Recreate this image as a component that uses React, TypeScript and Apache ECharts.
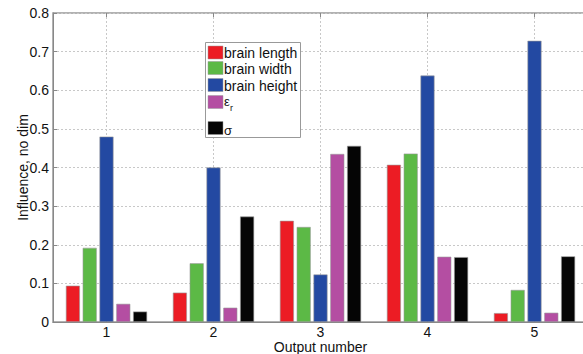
import React, { useEffect, useRef } from "react";
import * as echarts from "echarts";

const categories = ["1", "2", "3", "4", "5"];
const seriesNames = ["brain length", "brain width", "brain height", "εr", "σ"];
const brainLength = [0.094, 0.076, 0.262, 0.407, 0.023];
const brainWidth = [0.192, 0.152, 0.246, 0.436, 0.083];
const brainHeight = [0.48, 0.4, 0.123, 0.638, 0.728];
const epsR = [0.047, 0.037, 0.435, 0.169, 0.024];
const sigma = [0.027, 0.273, 0.456, 0.168, 0.17];
const colors = ["#ec1c24", "#5cb946", "#2349a2", "#b44ea2", "#050505"];
const yTicks = [0, 0.1, 0.2, 0.3, 0.4, 0.5, 0.6, 0.7, 0.8];

const FONT = "Liberation Sans, Arial, sans-serif";

export default function App() {
  const ref = useRef<HTMLDivElement>(null);
  useEffect(() => {
    if (!ref.current) return;
    const chart = echarts.init(ref.current, null, { renderer: "svg" });
    const allData = [brainLength, brainWidth, brainHeight, epsR, sigma];
    const legendTop = [46, 61.5, 78.5, 95.5, 121.5];
    const legendItems: any[] = [];
    seriesNames.forEach((name, i) => {
      legendItems.push({
        type: "rect",
        shape: { x: 208, y: legendTop[i], width: 15, height: 13 },
        style: { fill: colors[i], stroke: "#999", lineWidth: 0.5 },
      });
    });
    legendItems.push(
      { type: "text", style: { x: 224, y: 53, text: seriesNames[0], font: `14px ${FONT}`, fill: "#111", verticalAlign: "middle" } },
      { type: "text", style: { x: 224, y: 68.5, text: seriesNames[1], font: `14px ${FONT}`, fill: "#111", verticalAlign: "middle" } },
      { type: "text", style: { x: 224, y: 85.5, text: seriesNames[2], font: `14px ${FONT}`, fill: "#111", verticalAlign: "middle" } },
      { type: "text", style: { x: 224, y: 101, text: "ε", font: `13px ${FONT}`, fill: "#111", verticalAlign: "middle" } },
      { type: "text", style: { x: 230, y: 108, text: "r", font: `9px ${FONT}`, fill: "#111", verticalAlign: "middle" } },
      { type: "text", style: { x: 224, y: 130, text: "σ", font: `13px ${FONT}`, fill: "#111", verticalAlign: "middle" } }
    );
    chart.setOption({
      animation: false,
      backgroundColor: "#fff",
      grid: {
        left: 53,
        top: 13,
        right: -5,
        bottom: 32,
        show: true,
        borderColor: "#999",
        borderWidth: 1.5,
        containLabel: false,
        outerBoundsMode: "none",
      },
      xAxis: [
        {
          type: "category",
          data: categories,
          axisLine: { lineStyle: { color: "#888", width: 1 } },
          axisTick: { show: true, inside: true, alignWithLabel: true, length: 4, lineStyle: { color: "#888" } },
          axisLabel: { color: "#111", fontSize: 14, fontFamily: FONT, margin: 3 },
          splitLine: { show: false },
          name: "Output number",
          nameLocation: "middle",
          nameGap: 18,
          nameMoveOverlap: false,
          nameTextStyle: { color: "#111", fontSize: 14, fontFamily: FONT },
        },
        {
          type: "category",
          data: categories,
          position: "top",
          axisLine: { show: false },
          axisTick: { show: true, inside: true, alignWithLabel: true, length: 4, lineStyle: { color: "#888" } },
          axisLabel: { show: false },
          splitLine: { show: true, alignWithLabel: true, lineStyle: { color: "#c8c8c8", type: [2, 2], width: 1 } },
        },
      ],
      yAxis: {
        type: "value",
        min: 0,
        max: 0.8,
        interval: 0.1,
        axisLine: { show: true, lineStyle: { color: "#888", width: 1 } },
        axisTick: { show: true, inside: true, length: 4, lineStyle: { color: "#888" } },
        axisLabel: {
          color: "#111",
          fontSize: 14,
          fontFamily: FONT,
          margin: 4,
          formatter: (v: number) => {
            const t = yTicks.find((x) => Math.abs(x - v) < 1e-6);
            return t === undefined ? "" : String(t);
          },
        },
        splitLine: { show: true, lineStyle: { color: "#c8c8c8", type: [2, 2], width: 1 } },
        name: "Influence, no dim",
        nameLocation: "middle",
        nameGap: 23,
        nameMoveOverlap: false,
        nameTextStyle: { color: "#111", fontSize: 14, fontFamily: FONT },
      },
      series: allData.map((d, i) => ({
        type: "bar",
        name: seriesNames[i],
        data: d,
        barWidth: 14,
        barGap: "20%",
        itemStyle: { color: colors[i], borderColor: "#999", borderWidth: 0.6 },
        z: 3,
      })),
      graphic: [
        {
          type: "rect",
          shape: { x: 205.5, y: 42.5, width: 95, height: 95 },
          style: { fill: "#fff", stroke: "#999", lineWidth: 1 },
          z: 10,
        },
        ...legendItems.map((it) => ({ ...it, z: 11 })),
      ],
    });
    return () => chart.dispose();
  }, []);
  return <div ref={ref} style={{ position: "fixed", left: 0, top: 0, width: 583, height: 354 }} />;
}
